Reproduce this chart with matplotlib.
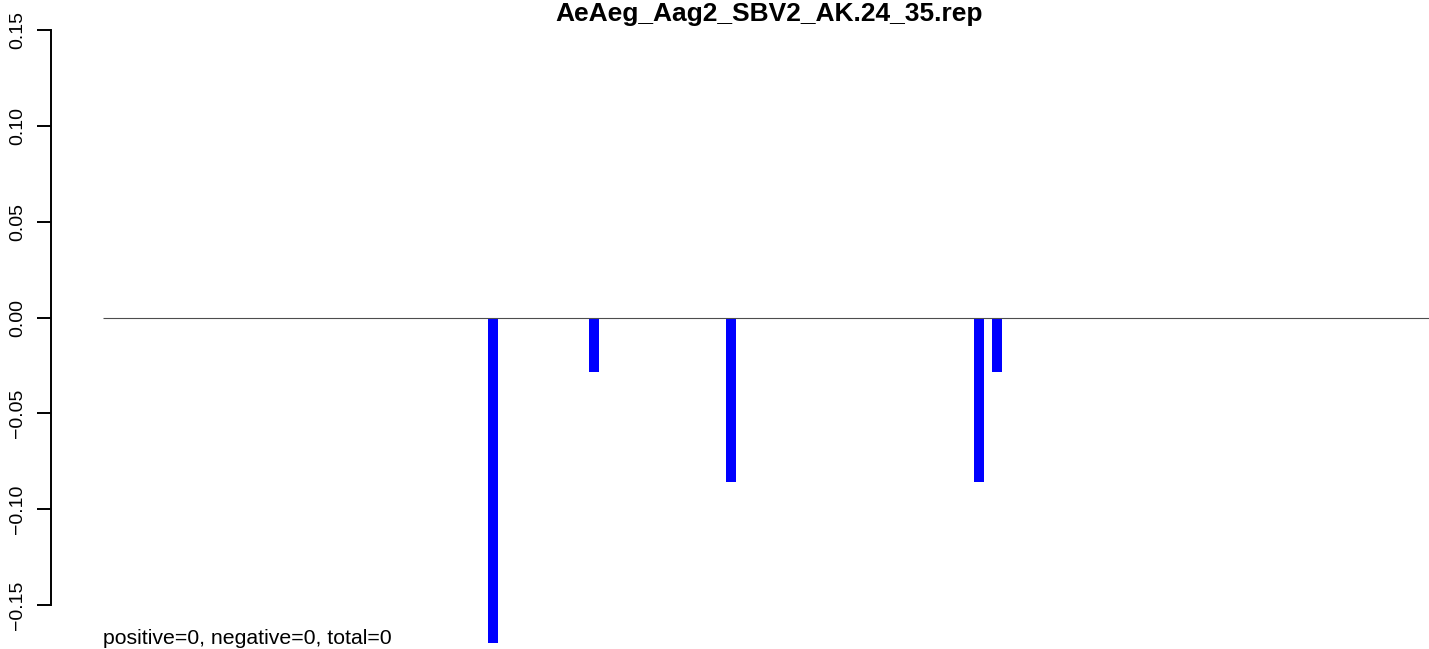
import matplotlib
matplotlib.use("Agg")
import matplotlib.pyplot as plt

# values
positions = [390, 491, 628, 876, 894]
values = [-0.170, -0.0286, -0.0857, -0.0857, -0.0286]
yticks = [-0.15, -0.10, -0.05, 0.00, 0.05, 0.10, 0.15]
ytick_labels = [("%.2f" % t).replace("-", "\u2212") for t in yticks]
title = "AeAeg_Aag2_SBV2_AK.24_35.rep"
footer = "positive=0, negative=0, total=0"
line_end = 1326

W, H = 1429, 649
plt.rcParams["font.family"] = ["Liberation Sans", "DejaVu Sans"]

fig = plt.figure(figsize=(W / 100, H / 100), dpi=100)
ax = fig.add_axes([51 / W, 0, (W - 51) / W, 1])
ax.set_xlim(-52, line_end)
ax.set_ylim(-0.1730, 0.1657)

ax.bar(positions, values, width=10, color="#0000ff", align="center", zorder=2)
ax.hlines(0, 0, line_end, color="#4d4d4d", linewidth=0.8, zorder=3)

for side in ["top", "right", "bottom"]:
    ax.spines[side].set_visible(False)
ax.spines["left"].set_bounds(-0.15, 0.15)
ax.spines["left"].set_linewidth(1.4)
ax.set_xticks([])
ax.set_yticks(yticks)
ax.set_yticklabels(ytick_labels, rotation=90, va="center", fontsize=14)
ax.tick_params(axis="y", length=10, width=1.4, pad=8)
ax.set_facecolor("none")

fig.text(769 / W, 1 - 21 / H, title, ha="center", va="baseline",
         fontsize=19, fontweight="bold")
fig.text(103 / W, 1 - 644 / H, footer, ha="left", va="baseline", fontsize=15.3)

fig.savefig("out.png", dpi=100, facecolor="white")
